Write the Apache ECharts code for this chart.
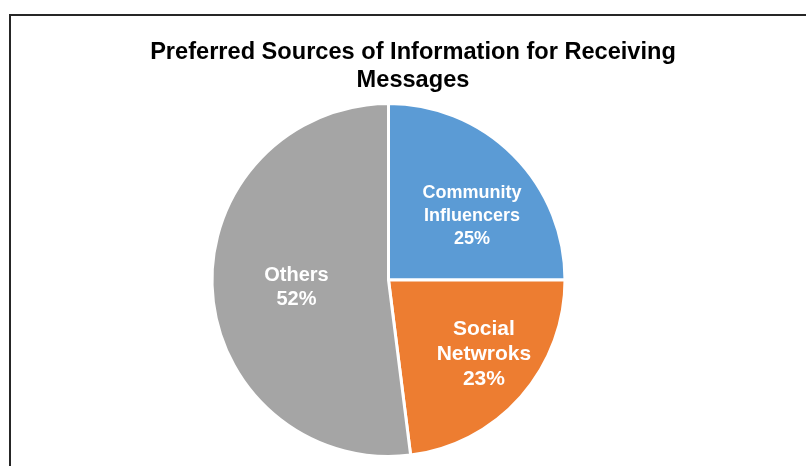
<!DOCTYPE html>
<html>
<head>
<meta charset="utf-8">
<script src="https://cdn.jsdelivr.net/npm/echarts@6/dist/echarts.min.js"></script>
<style>
  html, body { margin: 0; padding: 0; background: #ffffff; }
  #chart { width: 806px; height: 466px; }
</style>
</head>
<body>
<div id="chart"></div>
<script>
// Slice names, shares (percent) and colours
const categories = ['Community Influencers', 'Social Netwroks', 'Others'];
const shares = [25, 23, 52];
const sliceColors = ['#5B9BD5', '#ED7D31', '#A5A5A5'];

// Label styling per slice (font size, line height, nudge from the default inside spot)
const labelFontSizes = [18, 21, 20];
const labelLineHeights = [23, 25, 24];
const labelOffsets = [[19, 1], [27, 14], [-1, 2]];

const chart = echarts.init(document.getElementById('chart'), null, { renderer: 'canvas' });

const pieData = categories.map((name, i) => ({
  name: name,
  value: shares[i],
  itemStyle: { color: sliceColors[i] },
  label: {
    fontSize: labelFontSizes[i],
    lineHeight: labelLineHeights[i],
    offset: labelOffsets[i]
  }
}));

chart.setOption({
  animation: false,
  backgroundColor: '#ffffff',
  title: {
    text: 'Preferred Sources of Information for Receiving\nMessages',
    left: 408,
    top: 33,
    textAlign: 'center',
    textStyle: {
      fontFamily: 'Liberation Sans, Arial, sans-serif',
      fontWeight: 'bold',
      fontSize: 23.6,
      lineHeight: 28,
      color: '#000000'
    }
  },
  graphic: [{
    type: 'polyline',
    shape: { points: [[10, 470], [10, 15], [810, 15]] },
    style: { stroke: '#262626', lineWidth: 2, fill: null },
    silent: true
  }],
  series: [{
    type: 'pie',
    center: [388.5, 280],
    radius: [0, 176.5],
    startAngle: 90,
    clockwise: true,
    avoidLabelOverlap: false,
    itemStyle: { borderColor: '#ffffff', borderWidth: 3 },
    label: {
      show: true,
      position: 'inside',
      color: '#ffffff',
      fontFamily: 'Liberation Sans, Arial, sans-serif',
      fontWeight: 'bold',
      formatter: p => p.name.replace(' ', '\n') + '\n' + p.value + '%'
    },
    labelLine: { show: false },
    emphasis: { disabled: true },
    data: pieData
  }]
});
</script>
</body>
</html>
